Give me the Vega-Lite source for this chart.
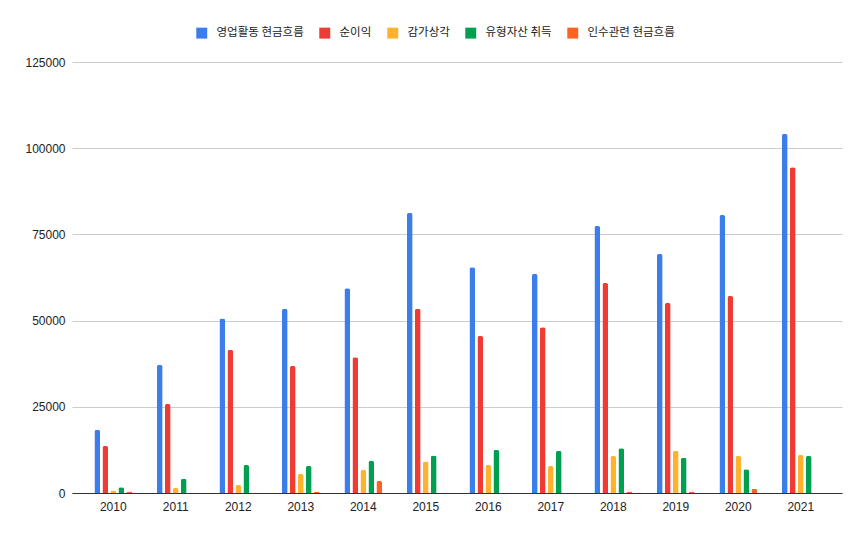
{
  "$schema": "https://vega.github.io/schema/vega-lite/v6.json",
  "width": 770,
  "height": 431,
  "autosize": "none",
  "padding": {"left": 72, "top": 62, "right": 25, "bottom": 44},
  "background": "white",
  "config": {
    "view": {"stroke": "transparent"},
    "font": "Liberation Sans, Noto Sans CJK KR",
    "axis": {"labelFont": "Liberation Sans", "labelFontSize": 12, "labelColor": "#222", "ticks": false, "title": null},
    "legend": {"labelFont": "Noto Sans CJK KR, Liberation Sans", "labelFontSize": 11.5, "labelColor": "#222"}
  },
  "data": {
    "values": [
      {"year": "2010", "series": "영업활동 현금흐름", "value": 18300},
      {"year": "2010", "series": "순이익", "value": 13600},
      {"year": "2010", "series": "감가상각", "value": 700},
      {"year": "2010", "series": "유형자산 취득", "value": 1700},
      {"year": "2010", "series": "인수관련 현금흐름", "value": 400},
      {"year": "2011", "series": "영업활동 현금흐름", "value": 37100},
      {"year": "2011", "series": "순이익", "value": 25800},
      {"year": "2011", "series": "감가상각", "value": 1450},
      {"year": "2011", "series": "유형자산 취득", "value": 4100},
      {"year": "2011", "series": "인수관련 현금흐름", "value": 100},
      {"year": "2012", "series": "영업활동 현금흐름", "value": 50600},
      {"year": "2012", "series": "순이익", "value": 41500},
      {"year": "2012", "series": "감가상각", "value": 2300},
      {"year": "2012", "series": "유형자산 취득", "value": 8100},
      {"year": "2012", "series": "인수관련 현금흐름", "value": 100},
      {"year": "2013", "series": "영업활동 현금흐름", "value": 53400},
      {"year": "2013", "series": "순이익", "value": 36800},
      {"year": "2013", "series": "감가상각", "value": 5500},
      {"year": "2013", "series": "유형자산 취득", "value": 7800},
      {"year": "2013", "series": "인수관련 현금흐름", "value": 300},
      {"year": "2014", "series": "영업활동 현금흐름", "value": 59400},
      {"year": "2014", "series": "순이익", "value": 39400},
      {"year": "2014", "series": "감가상각", "value": 6700},
      {"year": "2014", "series": "유형자산 취득", "value": 9300},
      {"year": "2014", "series": "인수관련 현금흐름", "value": 3500},
      {"year": "2015", "series": "영업활동 현금흐름", "value": 81200},
      {"year": "2015", "series": "순이익", "value": 53400},
      {"year": "2015", "series": "감가상각", "value": 9100},
      {"year": "2015", "series": "유형자산 취득", "value": 10900},
      {"year": "2015", "series": "인수관련 현금흐름", "value": 100},
      {"year": "2016", "series": "영업활동 현금흐름", "value": 65500},
      {"year": "2016", "series": "순이익", "value": 45500},
      {"year": "2016", "series": "감가상각", "value": 8100},
      {"year": "2016", "series": "유형자산 취득", "value": 12500},
      {"year": "2016", "series": "인수관련 현금흐름", "value": 100},
      {"year": "2017", "series": "영업활동 현금흐름", "value": 63500},
      {"year": "2017", "series": "순이익", "value": 48100},
      {"year": "2017", "series": "감가상각", "value": 7800},
      {"year": "2017", "series": "유형자산 취득", "value": 12200},
      {"year": "2017", "series": "인수관련 현금흐름", "value": 100},
      {"year": "2018", "series": "영업활동 현금흐름", "value": 77400},
      {"year": "2018", "series": "순이익", "value": 60900},
      {"year": "2018", "series": "감가상각", "value": 10700},
      {"year": "2018", "series": "유형자산 취득", "value": 13000},
      {"year": "2018", "series": "인수관련 현금흐름", "value": 400},
      {"year": "2019", "series": "영업활동 현금흐름", "value": 69300},
      {"year": "2019", "series": "순이익", "value": 55100},
      {"year": "2019", "series": "감가상각", "value": 12200},
      {"year": "2019", "series": "유형자산 취득", "value": 10200},
      {"year": "2019", "series": "인수관련 현금흐름", "value": 400},
      {"year": "2020", "series": "영업활동 현금흐름", "value": 80600},
      {"year": "2020", "series": "순이익", "value": 57100},
      {"year": "2020", "series": "감가상각", "value": 10700},
      {"year": "2020", "series": "유형자산 취득", "value": 6900},
      {"year": "2020", "series": "인수관련 현금흐름", "value": 1200},
      {"year": "2021", "series": "영업활동 현금흐름", "value": 104100},
      {"year": "2021", "series": "순이익", "value": 94500},
      {"year": "2021", "series": "감가상각", "value": 11000},
      {"year": "2021", "series": "유형자산 취득", "value": 10700}
    ]
  },
  "mark": {"type": "bar", "cornerRadiusTopLeft": 2, "cornerRadiusTopRight": 2},
  "encoding": {
    "x": {
      "field": "year",
      "type": "nominal",
      "scale": {"paddingInner": 0.36, "paddingOuter": 0.34},
      "axis": {"labelAngle": 0, "domainColor": "#333", "domainWidth": 1, "labelPadding": 8, "grid": false}
    },
    "xOffset": {
      "field": "series",
      "type": "nominal",
      "sort": ["영업활동 현금흐름", "순이익", "감가상각", "유형자산 취득", "인수관련 현금흐름"],
      "scale": {"paddingInner": 0.29, "paddingOuter": 0.145}
    },
    "y": {
      "field": "value",
      "type": "quantitative",
      "scale": {"domain": [0, 125000], "nice": false},
      "axis": {"values": [0, 25000, 50000, 75000, 100000, 125000], "format": "d", "domain": false, "gridColor": "#ccc", "labelPadding": 7}
    },
    "color": {
      "field": "series",
      "type": "nominal",
      "sort": ["영업활동 현금흐름", "순이익", "감가상각", "유형자산 취득", "인수관련 현금흐름"],
      "scale": {
        "domain": ["영업활동 현금흐름", "순이익", "감가상각", "유형자산 취득", "인수관련 현금흐름"],
        "range": ["#3b7eeb", "#f03b35", "#ffb22e", "#00a050", "#ff6321"]
      },
      "legend": {
        "title": null,
        "orient": "none",
        "legendX": 124,
        "legendY": -35,
        "direction": "horizontal",
        "symbolType": "square",
        "symbolSize": 120,
        "symbolStrokeWidth": 0,
        "labelOffset": 9,
        "columnPadding": 15
      }
    }
  }
}
